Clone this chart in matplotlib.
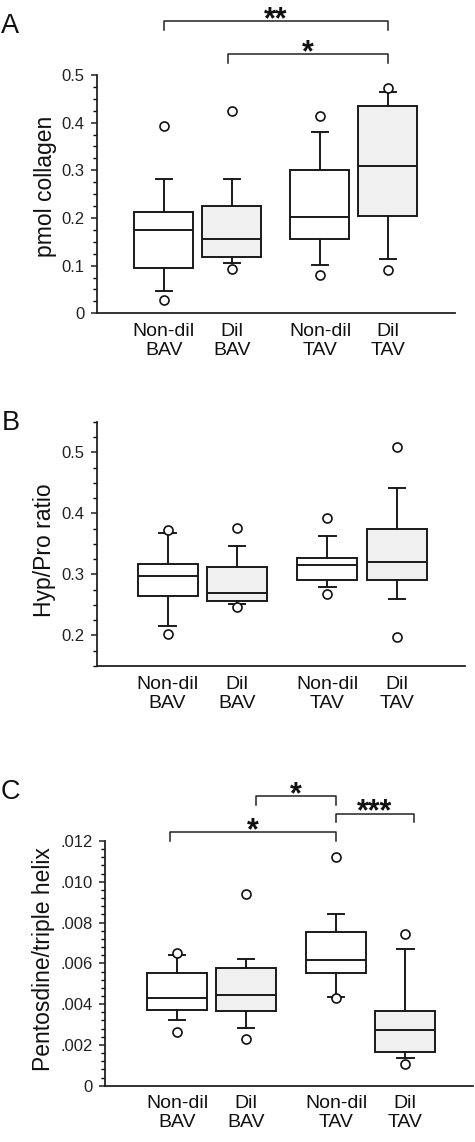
import matplotlib
matplotlib.use("Agg")
import matplotlib.pyplot as plt
from matplotlib.ticker import MultipleLocator, FuncFormatter

plt.rcParams['font.family'] = ['Liberation Sans', 'DejaVu Sans']

# ---------------- data ----------------
groups = ["Non-dil\nBAV", "Dil\nBAV", "Non-dil\nTAV", "Dil\nTAV"]
positions = [1, 2, 3.3, 4.3]
fills = ["white", "#f0f0f0", "white", "#f0f0f0"]

# Panel A: pmol collagen  (whislo, q1, med, q3, whishi, fliers)
a_whislo = [0.046, 0.106, 0.101, 0.114]
a_q1 = [0.094, 0.119, 0.156, 0.205]
a_med = [0.175, 0.156, 0.203, 0.310]
a_q3 = [0.213, 0.226, 0.301, 0.435]
a_whishi = [0.281, 0.281, 0.380, 0.464]
a_fliers = [[0.392, 0.027], [0.424, 0.092], [0.415, 0.081], [0.473, 0.090]]

# Panel B: Hyp/Pro ratio
b_whislo = [0.215, 0.252, 0.279, 0.260]
b_q1 = [0.265, 0.256, 0.291, 0.290]
b_med = [0.298, 0.270, 0.315, 0.321]
b_q3 = [0.317, 0.312, 0.327, 0.375]
b_whishi = [0.367, 0.346, 0.363, 0.441]
b_fliers = [[0.372, 0.203], [0.376, 0.246], [0.393, 0.268], [0.509, 0.197]]

# Panel C: Pentosidine / triple helix
c_whislo = [0.00320, 0.00284, 0.00435, 0.00135]
c_q1 = [0.00371, 0.00364, 0.00552, 0.00164]
c_med = [0.00428, 0.00447, 0.00617, 0.00271]
c_q3 = [0.00552, 0.00578, 0.00755, 0.00364]
c_whishi = [0.00642, 0.00622, 0.00842, 0.00671]
c_fliers = [[0.00652, 0.00261], [0.00939, 0.00230], [0.01121, 0.00430], [0.00745, 0.00105]]

# significance brackets: (x_left, x_right, y_line, y_tick_left, y_tick_right, label)
a_brackets = [(1.0, 4.3, 0.613, 0.594, 0.594, "**"),
              (1.94, 4.3, 0.544, 0.525, 0.525, "*")]
c_brackets = [(2.15, 3.3, 0.01419, 0.01377, 0.01377, "*"),
              (3.3, 4.42, 0.01334, 0.01293, 0.01293, "***"),
              (0.9, 3.3, 0.01243, 0.0120, 0.0120, "*")]

W, H = 475, 1142
fig = plt.figure(figsize=(W / 100, H / 100), dpi=100)


def px_rect(l, t, r, b):
    return [l / W, 1 - b / H, (r - l) / W, (b - t) / H]


def draw_panel(ax, whislo, q1, med, q3, whishi, fliers, width):
    stats = []
    for i in range(len(groups)):
        stats.append(dict(whislo=whislo[i], q1=q1[i], med=med[i], q3=q3[i],
                          whishi=whishi[i], fliers=fliers[i]))
    bp = ax.bxp(stats, positions=positions, widths=width, patch_artist=True,
                showfliers=True,
                boxprops=dict(linewidth=1.4, edgecolor="#1a1a1a"),
                medianprops=dict(color="#1a1a1a", linewidth=1.4),
                whiskerprops=dict(color="#1a1a1a", linewidth=1.4),
                capprops=dict(color="#1a1a1a", linewidth=1.4),
                flierprops=dict(marker="o", markerfacecolor="white",
                                markeredgecolor="#111111", markersize=6.5,
                                markeredgewidth=1.2, linestyle="none"))
    for patch, fc in zip(bp["boxes"], fills):
        patch.set_facecolor(fc)
    for cap in bp["caps"]:
        x = cap.get_xdata()
        mid = (x[0] + x[1]) / 2
        cap.set_xdata([mid - 0.12, mid + 0.12])
    for s in ["top", "right"]:
        ax.spines[s].set_visible(False)
    for s in ["left", "bottom"]:
        ax.spines[s].set_linewidth(1.3)
        ax.spines[s].set_color("#222222")
    ax.set_xticks(positions)
    ax.set_xticklabels(groups, fontsize=14, linespacing=1.15)
    ax.tick_params(axis="x", length=0, pad=7, colors="#111111")
    ax.tick_params(axis="y", which="major", length=4, width=1.1, pad=5,
                   labelsize=12, colors="#222222")
    ax.tick_params(axis="y", which="minor", length=3, width=1.0)


def draw_brackets(ax, brackets):
    for xl, xr, yl, ytl, ytr, lab in brackets:
        ax.plot([xl, xl, xr, xr], [ytl, yl, yl, ytr], color="#222222",
                lw=1.1, clip_on=False)
        ax.annotate(lab, xy=((xl + xr) / 2, yl), xytext=(0, -5),
                    textcoords="offset points", ha="center", va="baseline",
                    fontsize=22, fontweight="bold", color="#111111",
                    annotation_clip=False)


# ---- Panel A ----
axA = fig.add_axes(px_rect(96.7, 75, 455, 313.3))
draw_panel(axA, a_whislo, a_q1, a_med, a_q3, a_whishi, a_fliers, 0.87)
axA.set_xlim(0.01, 5.29)
axA.set_ylim(0, 0.5)
axA.yaxis.set_major_locator(MultipleLocator(0.1))
axA.yaxis.set_minor_locator(MultipleLocator(0.025))
axA.yaxis.set_major_formatter(FuncFormatter(lambda v, p: "0" if abs(v) < 1e-9 else f"{v:.1f}"))
draw_brackets(axA, a_brackets)

# ---- Panel B ----
axB = fig.add_axes(px_rect(96.7, 421.7, 465, 666))
draw_panel(axB, b_whislo, b_q1, b_med, b_q3, b_whishi, b_fliers, 0.865)
axB.set_xlim(-0.02, 5.28)
axB.set_ylim(0.15, 0.55)
axB.yaxis.set_major_locator(MultipleLocator(0.1))
axB.yaxis.set_minor_locator(MultipleLocator(0.025))
axB.yaxis.set_major_formatter(FuncFormatter(lambda v, p: f"{v:.1f}"))

# ---- Panel C ----
axC = fig.add_axes(px_rect(105, 841, 473, 1085.7))
draw_panel(axC, c_whislo, c_q1, c_med, c_q3, c_whishi, c_fliers, 0.86)
axC.set_xlim(-0.04, 5.28)
axC.set_ylim(0, 0.012)
axC.yaxis.set_major_locator(MultipleLocator(0.002))
axC.yaxis.set_minor_locator(MultipleLocator(0.0004))
axC.yaxis.set_major_formatter(FuncFormatter(
    lambda v, p: "0" if abs(v) < 1e-12 else f"{v:.3f}".lstrip("0")))
draw_brackets(axC, c_brackets)

# axis labels
fig.text(45.7 / W, 1 - 186.7 / H, "pmol collagen", rotation=90, ha="center",
         va="center", fontsize=16.5, color="#111111")
fig.text(45 / W, 1 - 550 / H, "Hyp/Pro ratio", rotation=90, ha="center",
         va="center", fontsize=16.5, color="#111111")
fig.text(44 / W, 1 - 958.8 / H, "Pentosdine/triple helix", rotation=90,
         ha="center", va="center", fontsize=16.5, color="#111111")

# panel letters
for lab, yc in [("A", 26), ("B", 422.5), ("C", 791.7)]:
    fig.text(10.5 / W, 1 - yc / H, lab, ha="center", va="center",
             fontsize=19.5, color="#111111")

fig.savefig("out.png", dpi=100)
